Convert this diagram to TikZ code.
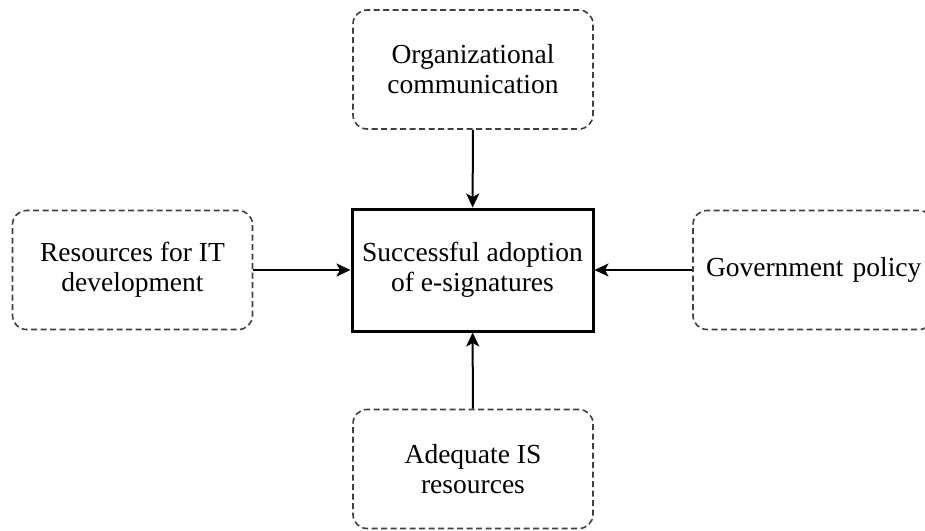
\documentclass[tikz,border=0pt]{standalone}
\usepackage{fontspec}
\setmainfont{Liberation Serif}
\usetikzlibrary{arrows.meta}
\begin{document}
\begin{tikzpicture}[x=1pt,y=-1pt,
  factor/.style={draw=black!75, line width=1.6pt, dash pattern=on 6pt off 3.5pt,
    rounded corners=14pt, minimum width=240pt, minimum height=119pt,
    align=center, inner sep=0pt, font=\fontsize{27.5}{30}\selectfont},
  outcome/.style={draw=black, line width=3pt, minimum width=241pt, minimum height=122pt,
    align=center, inner sep=0pt, font=\fontsize{27.5}{30}\selectfont},
  link/.style={draw=black, line width=2pt, -{Stealth[length=14pt,width=13pt,inset=3.5pt]}}]
  \clip (0,0) rectangle (925,530);
  \useasboundingbox (0,0) rectangle (925,530);
  \node[outcome] (goal) at (472.5,270) {Successful adoption\\of e-signatures};
  \node[factor] (comm) at (473,69.5) {Organizational\\communication};
  \node[factor] (res) at (132.5,270) {Resources for IT\\development};
  \node[factor, text width=240pt, align=left] (gov) at (813,270) {\hspace{13pt}Government policy};
  \node[factor] (isr) at (473,469) {Adequate IS\\resources};
  \draw[link] (comm) -- (goal);
  \draw[link] (res) -- (goal);
  \draw[link] (gov) -- (goal);
  \draw[link] (isr) -- (goal);
\end{tikzpicture}
\end{document}
